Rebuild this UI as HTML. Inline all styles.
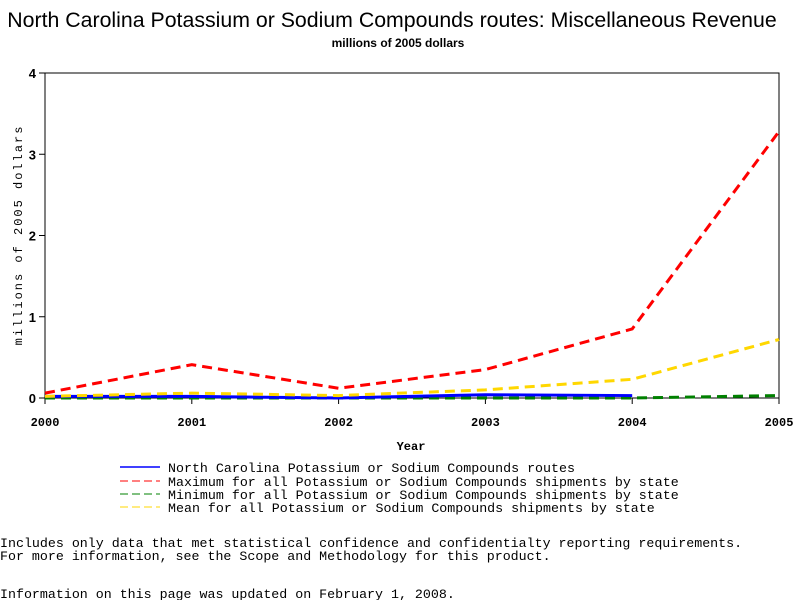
<!DOCTYPE html>
<html><head><meta charset="utf-8"><style>
body{margin:0;background:#fff;width:800px;height:600px;overflow:hidden;font-family:"Liberation Mono",monospace}
</style></head><body>
<svg width="800" height="600" font-family="Liberation Sans, sans-serif">
<text x="392" y="27" text-anchor="middle" font-size="21.3">North Carolina Potassium or Sodium Compounds routes: Miscellaneous Revenue</text>
<text x="398" y="47" text-anchor="middle" font-size="12" font-weight="bold">millions of 2005 dollars</text>
<g id="axes"></g>
<g id="series"></g>
<text x="411" y="450" text-anchor="middle" font-size="12" font-weight="bold" font-family="Liberation Mono, monospace">Year</text>
<text transform="translate(22,235) rotate(-90)" text-anchor="middle" font-size="12" font-family="Liberation Mono, monospace" letter-spacing="2">millions of 2005 dollars</text>
<g font-family="Liberation Mono, monospace" font-size="13.3">
<g><line x1="120" y1="467" x2="160" y2="467" stroke="#0000ff" stroke-width="1.5"/><text x="168" y="472">North Carolina Potassium or Sodium Compounds routes</text></g>
<g><line x1="120" y1="481" x2="160" y2="481" stroke="#ff0000" stroke-dasharray="8,4"/><text x="168" y="486">Maximum for all Potassium or Sodium Compounds shipments by state</text></g>
<g><line x1="120" y1="494" x2="160" y2="494" stroke="#008000" stroke-dasharray="8,4"/><text x="168" y="499">Minimum for all Potassium or Sodium Compounds shipments by state</text></g>
<g><line x1="120" y1="507" x2="160" y2="507" stroke="#ffd700" stroke-dasharray="8,4"/><text x="168" y="512">Mean for all Potassium or Sodium Compounds shipments by state</text></g>
<text x="0" y="547">Includes only data that met statistical confidence and confidentialty reporting requirements.</text>
<text x="0" y="560">For more information, see the Scope and Methodology for this product.</text>
<text x="0" y="598">Information on this page was updated on February 1, 2008.</text>
</g>
</svg>
<script>
const years=[2000,2001,2002,2003,2004,2005];
const yTicks=[0,1,2,3,4];
const maxVals=[0.06,0.41,0.12,0.35,0.85,3.28];
const meanVals=[0.02,0.06,0.03,0.10,0.23,0.72];
const minVals=[0,0,0,0,0,0.03];
const ncYears=[2000,2001,2002,2003,2004];
const ncVals=[0.02,0.02,0.0,0.04,0.03];
const NS='http://www.w3.org/2000/svg';
const x0=45,x1=779,yb=398,yt=73;
const xs=v=>x0+(v-2000)/5*(x1-x0);
const ys=v=>yb-v/4*(yb-yt);
const axes=document.getElementById('axes'),ser=document.getElementById('series');
function mk(t,a,p){const e=document.createElementNS(NS,t);for(const k in a)e.setAttribute(k,a[k]);p.appendChild(e);return e;}
const fr=mk('rect',{x:x0,y:yt,width:x1-x0,height:yb-yt,fill:'none',stroke:'#000'},axes);


yTicks.forEach(t=>{
  const l=mk('line',{x1:x0-6,x2:x0,y1:ys(t),y2:ys(t),stroke:'#000'},axes);
  
  
  const tx=mk('text',{x:x0-9,y:ys(t)+5,'text-anchor':'end','font-size':13,'font-weight':'bold'},axes);
  tx.textContent=t;
  
  
});
years.forEach(y=>{
  const l=mk('line',{x1:xs(y),x2:xs(y),y1:yb,y2:yb+6,stroke:'#000'},axes);
  
  
  const tx=mk('text',{x:xs(y),y:yb+28,'text-anchor':'middle','font-size':12,'font-weight':'bold','font-family':'Liberation Mono, monospace'},axes);
  tx.textContent=y;
  
  
});
function line(xv,vals,color,dash,w,name){
  const p=mk('polyline',{points:vals.map((v,i)=>xs(xv[i])+','+ys(v)).join(' '),fill:'none',stroke:color,'stroke-width':w,'stroke-dasharray':dash},ser);
  
  
}
line(years,minVals,'#008000','10,6',3,'min-line');
line(ncYears,ncVals,'#0000ff','none',3,'nc-line');
line(years,meanVals,'#ffd700','10,6',3,'mean-line');
line(years,maxVals,'#ff0000','10,6',3,'max-line');
</script>
</body></html>
